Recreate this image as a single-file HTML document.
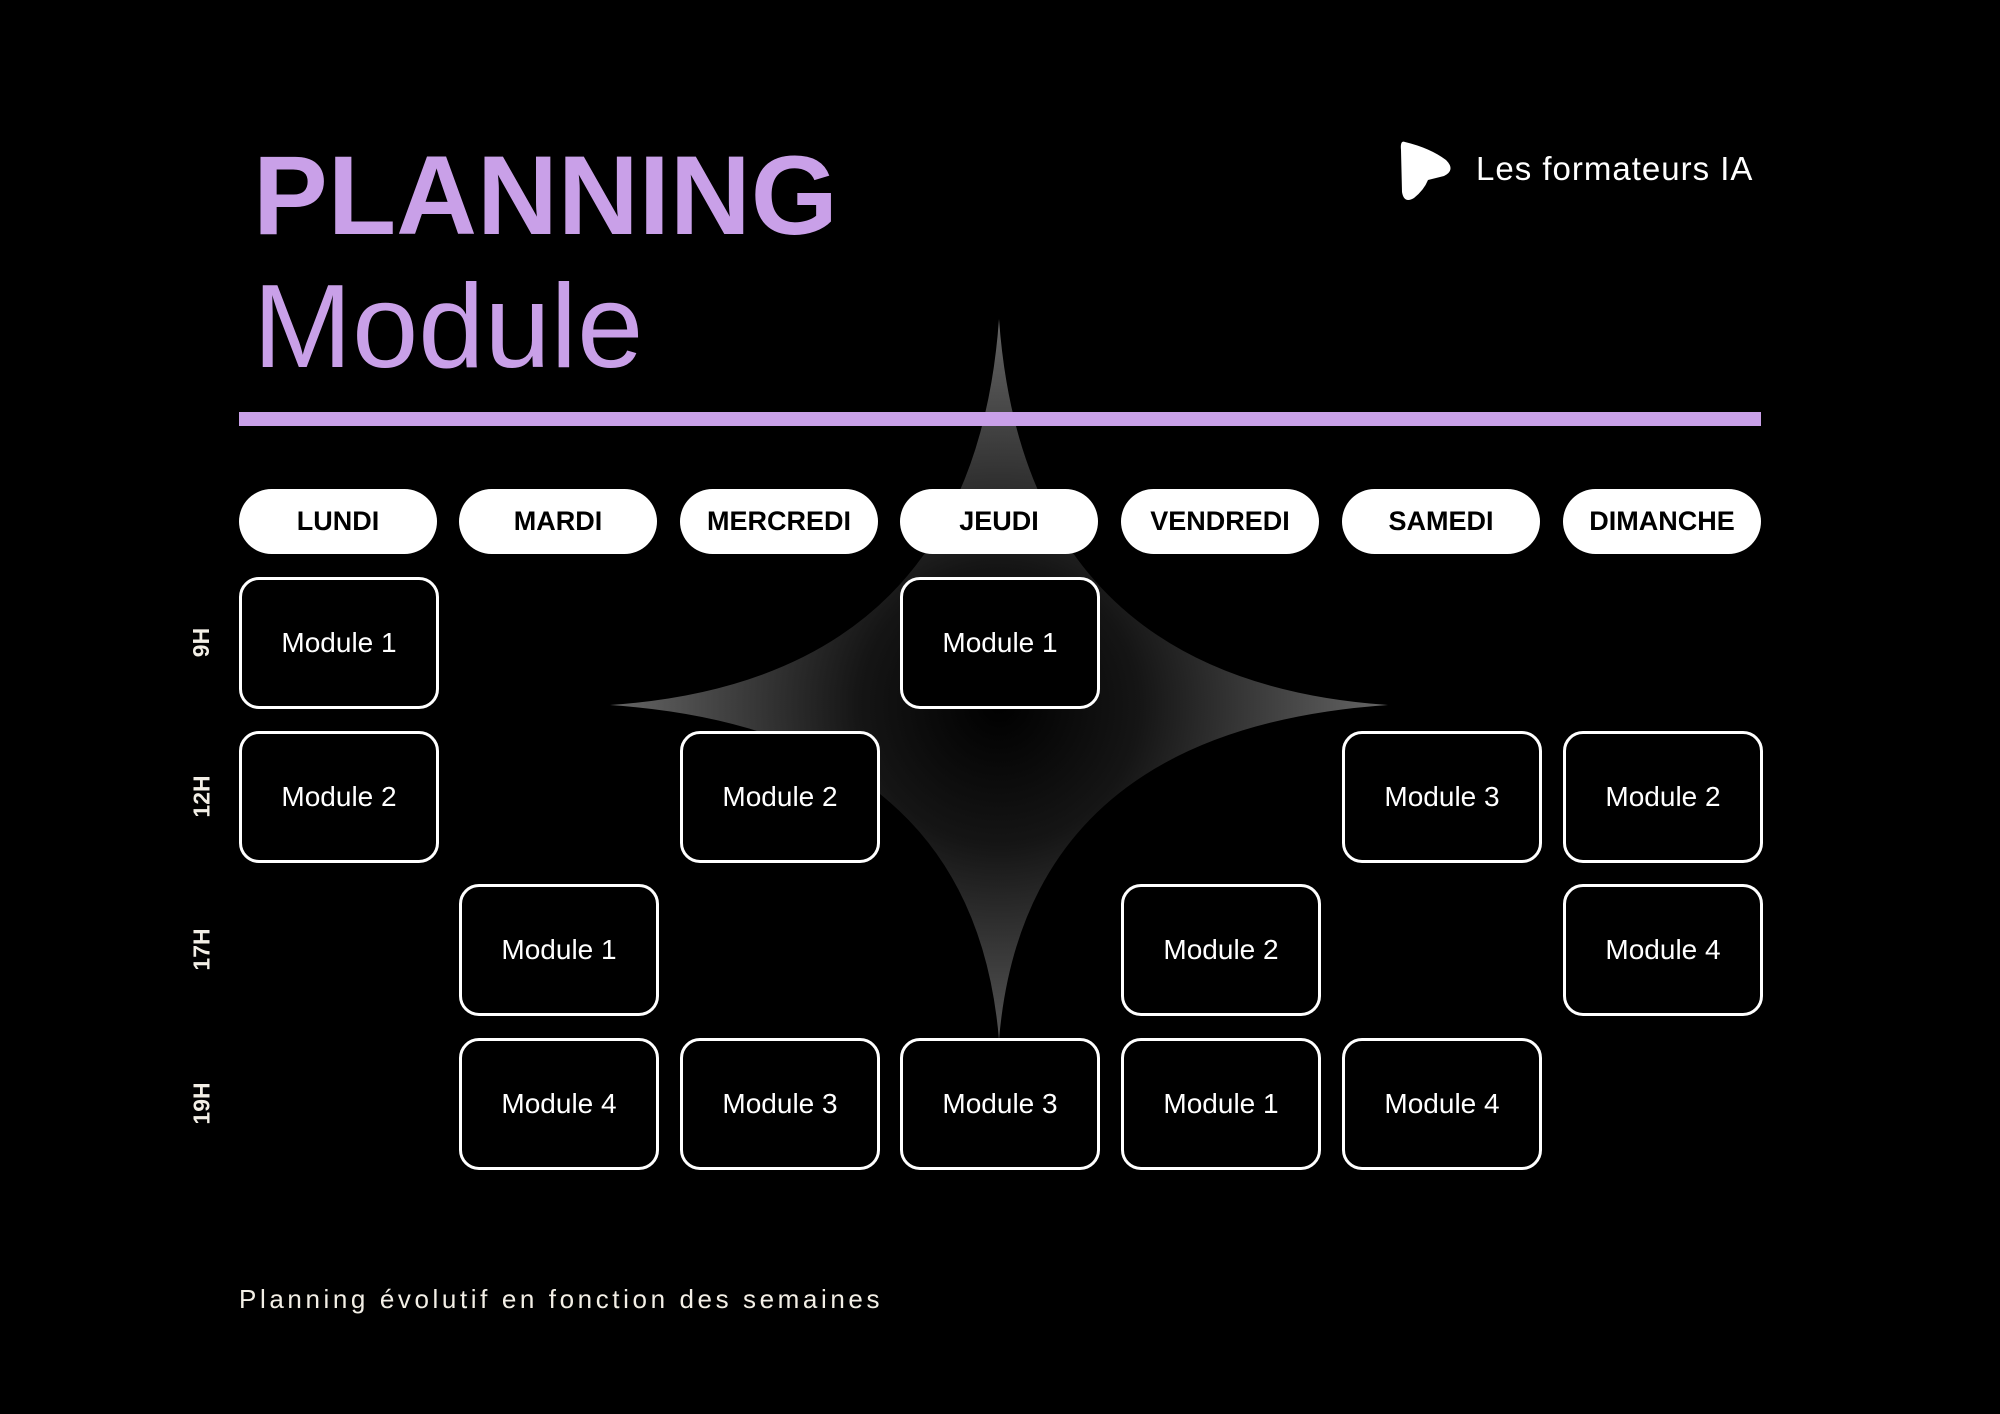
<!DOCTYPE html>
<html><head><meta charset="utf-8"><style>
body{margin:0;width:2000px;height:1414px;background:#000;position:relative;overflow:hidden;font-family:"Liberation Sans",sans-serif;color:#fff}
.a{position:absolute}
.pill{position:absolute;top:489px;width:198px;height:65px;border-radius:33px;background:#fff;color:#000;font-weight:bold;font-size:27px;display:flex;align-items:center;justify-content:center}
.box{position:absolute;width:194px;height:126px;border:3px solid #fff;border-radius:20px;background:#000;display:flex;align-items:center;justify-content:center;font-size:28px}
.rl{position:absolute;left:182px;width:40px;height:130px;display:flex;align-items:center;justify-content:center}
.rl span{transform:rotate(-90deg);font-weight:bold;font-size:23px;white-space:nowrap;color:#f3efe6}
</style></head><body>
<svg class="a" style="left:0;top:0" width="2000" height="1414">
<defs><radialGradient id="g" cx="999" cy="705" r="400" gradientUnits="userSpaceOnUse">
<stop offset="0" stop-color="#000"/><stop offset="0.35" stop-color="#151515"/><stop offset="1" stop-color="#6a6a6a"/></radialGradient></defs>
<path d="M999 319 Q1025 680 1388 705 Q1025 730 999 1040 Q973 730 610 705 Q973 680 999 319Z" fill="url(#g)"/>
<path d="M1405 142 Q1400 140 1401 150 L1402 192 Q1404 204 1414 198 Q1424 190 1428 180 L1444 176 Q1456 170 1446 160 Q1430 148 1405 142Z" fill="#fff"/>
</svg>
<div class="a" style="left:253px;top:140px;font-size:112px;font-weight:bold;color:#c9a0e8;line-height:1">PLANNING</div>
<div class="a" style="left:253px;top:267px;font-size:119px;color:#c9a0e8;line-height:1">Module</div>
<div class="a" style="left:1476px;top:152px;font-size:33px;letter-spacing:1px;line-height:1">Les formateurs IA</div>
<div class="a" style="left:239px;top:412px;width:1522px;height:14px;background:#c9a0e8"></div>
<div class="pill" style="left:239px">LUNDI</div>
<div class="pill" style="left:459px">MARDI</div>
<div class="pill" style="left:680px">MERCREDI</div>
<div class="pill" style="left:900px">JEUDI</div>
<div class="pill" style="left:1121px">VENDREDI</div>
<div class="pill" style="left:1342px">SAMEDI</div>
<div class="pill" style="left:1563px">DIMANCHE</div>
<div class="rl" style="top:577px"><span>9H</span></div>
<div class="rl" style="top:731px"><span>12H</span></div>
<div class="rl" style="top:884px"><span>17H</span></div>
<div class="rl" style="top:1038px"><span>19H</span></div>
<div class="box" style="left:239px;top:577px">Module 1</div>
<div class="box" style="left:900px;top:577px">Module 1</div>
<div class="box" style="left:239px;top:731px">Module 2</div>
<div class="box" style="left:680px;top:731px">Module 2</div>
<div class="box" style="left:1342px;top:731px">Module 3</div>
<div class="box" style="left:1563px;top:731px">Module 2</div>
<div class="box" style="left:459px;top:884px">Module 1</div>
<div class="box" style="left:1121px;top:884px">Module 2</div>
<div class="box" style="left:1563px;top:884px">Module 4</div>
<div class="box" style="left:459px;top:1038px">Module 4</div>
<div class="box" style="left:680px;top:1038px">Module 3</div>
<div class="box" style="left:900px;top:1038px">Module 3</div>
<div class="box" style="left:1121px;top:1038px">Module 1</div>
<div class="box" style="left:1342px;top:1038px">Module 4</div>
<div class="a" style="left:239px;top:1284px;font-size:26px;letter-spacing:3.6px;color:#f3efe6">Planning évolutif en fonction des semaines</div>
</body></html>
